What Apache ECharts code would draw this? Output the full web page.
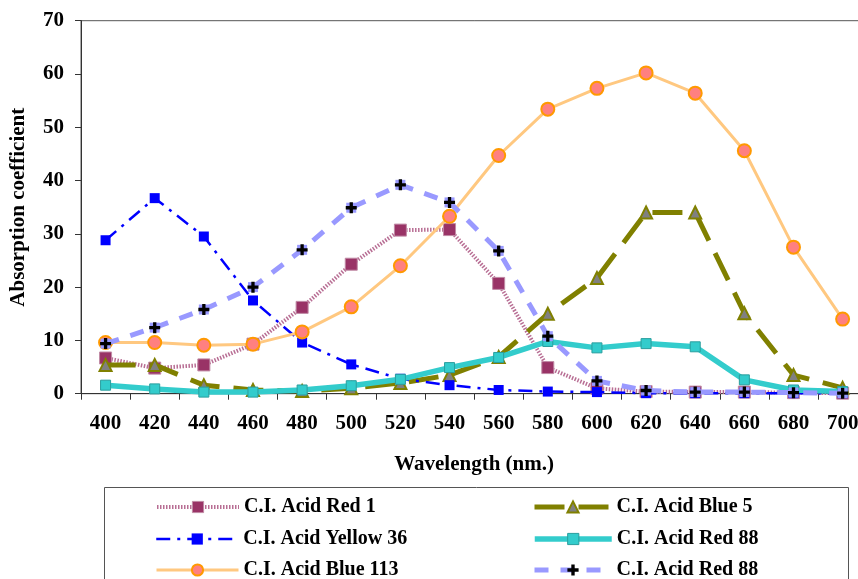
<!DOCTYPE html>
<html>
<head>
<meta charset="utf-8">
<script src="https://cdn.jsdelivr.net/npm/echarts@6/dist/echarts.min.js"></script>
<style>html,body{margin:0;padding:0;background:#fff;overflow:hidden;width:858px;height:579px}#c{width:868px;height:579px}</style>
</head>
<body>
<div id="c"></div>
<script>
var wavelengths = ['400','420','440','460','480','500','520','540','560','580','600','620','640','660','680','700'];
var acidRed1 =     [6.7, 4.8, 5.4, 9.3, 16.2, 24.3, 30.7, 30.8, 20.7, 4.9, 1.0, 0.4, 0.3, 0.3, 0.2, 0.1];
var acidBlue5 =    [5.4, 5.4, 1.6, 0.7, 0.5, 1.0, 2.0, 3.5, 6.9, 15.0, 21.7, 34.0, 34.0, 15.1, 3.5, 1.1];
var acidYellow36 = [28.8, 36.7, 29.5, 17.5, 9.6, 5.5, 2.8, 1.6, 0.7, 0.4, 0.3, 0.1, 0.1, 0.1, 0.1, 0.1];
var acidRed88 =    [1.6, 0.9, 0.3, 0.3, 0.7, 1.5, 2.7, 4.9, 6.8, 9.8, 8.6, 9.4, 8.8, 2.6, 0.7, 0.4];
var acidBlue113 =  [9.6, 9.6, 9.1, 9.3, 11.6, 16.3, 24.0, 33.3, 44.7, 53.4, 57.3, 60.2, 56.4, 45.6, 27.5, 14.0];
var acidRed88b =   [9.4, 12.4, 15.8, 20.0, 27.0, 34.9, 39.2, 35.9, 26.8, 10.8, 2.4, 0.6, 0.3, 0.3, 0.2, 0.1];
var yTicks = {min: 0, max: 70, interval: 10};

var FONT = 'Liberation Serif';
var plusPath = 'path://M3.5,0H6.5V3.5H10V6.5H6.5V10H3.5V6.5H0V3.5H3.5Z';
var names = ['C.I. Acid Red 1','C.I. Acid Blue 5','C.I. Acid Yellow 36','C.I. Acid Red 88','C.I. Acid Blue 113','C.I. Acid Red 88 '];

var styles = [
  {sym: 'rect', size: 12, item: {color: '#993366', borderColor: '#c08aa5', borderWidth: 1},
   line: {color: '#b86e94', width: 4, type: [1.5, 1.5]}},
  {sym: 'triangle', size: 12, item: {color: '#808080', borderColor: '#808000', borderWidth: 2},
   line: {color: '#808000', width: 5, type: [30, 14]}},
  {sym: 'rect', size: 10, item: {color: '#0000FF'},
   line: {color: '#0000FF', width: 2.5, type: [14, 7, 3, 7]}},
  {sym: 'rect', size: 10, item: {color: '#33CCCC', borderColor: '#2a9e9e', borderWidth: 1},
   line: {color: '#33CCCC', width: 5.5}},
  {sym: 'circle', size: 13, item: {color: '#FF8080', borderColor: '#FF9900', borderWidth: 2},
   line: {color: '#FFC880', width: 3}},
  {sym: plusPath, size: 11, item: {color: '#000'},
   line: {color: '#9999FF', width: 5, type: [14, 12]}}
];
var dataSets = [acidRed1, acidBlue5, acidYellow36, acidRed88, acidBlue113, acidRed88b];

var legendText = {fontFamily: FONT, fontWeight: 'bold', fontSize: 20, color: '#000'};
var legendPos = [[155, 497], [532, 497], [155, 529], [532, 529], [155, 560], [532, 560]];
var legends = names.map(function (n, i) {
  return {
    data: [n], orient: 'horizontal',
    left: legendPos[i][0], top: legendPos[i][1], padding: 0,
    itemWidth: i % 2 === 0 ? 82 : 77, itemHeight: 14, itemGap: 0,
    textStyle: legendText,
    lineStyle: {color: styles[i].line.color, width: styles[i].line.width, type: styles[i].line.type || 'solid'},
    itemStyle: styles[i].item
  };
});

var series = [];
dataSets.forEach(function (d, i) {
  if (i === 5) {
    series.push({name: 'bg-marker', type: 'line', data: d, symbol: 'rect', symbolSize: 10,
      itemStyle: {color: '#9999FF'}, lineStyle: {width: 0, opacity: 0}, z: 7});
  }
  series.push({name: names[i], type: 'line', data: d, symbol: styles[i].sym, symbolSize: styles[i].size,
    itemStyle: styles[i].item, lineStyle: styles[i].line, z: 2 + i + (i === 5 ? 2 : 0)});
});

var chart = echarts.init(document.getElementById('c'), null, {renderer: 'canvas'});
chart.setOption({
  animation: false,
  backgroundColor: '#fff',
  grid: {left: 80, top: 20.7, right: 0.8, bottom: 185.3, show: true, borderColor: '#555', borderWidth: 1},
  xAxis: {
    type: 'category', data: wavelengths, boundaryGap: true,
    axisLine: {lineStyle: {color: '#333', width: 1}},
    axisTick: {show: true, length: 6, lineStyle: {color: '#333'}},
    axisLabel: {fontFamily: FONT, fontWeight: 'bold', fontSize: 21, color: '#000', margin: 19, interval: 0},
    name: 'Wavelength (nm.)', nameLocation: 'middle', nameGap: 60,
    nameTextStyle: {fontFamily: FONT, fontWeight: 'bold', fontSize: 21, color: '#000'}
  },
  yAxis: {
    type: 'value', min: yTicks.min, max: yTicks.max, interval: yTicks.interval,
    splitLine: {show: false},
    axisLine: {show: true, lineStyle: {color: '#333', width: 1}},
    axisTick: {show: true, length: 6, lineStyle: {color: '#333'}},
    axisLabel: {fontFamily: FONT, fontWeight: 'bold', fontSize: 21, color: '#000', margin: 17},
    name: 'Absorption coefficient', nameLocation: 'middle', nameGap: 52,
    nameTextStyle: {fontFamily: FONT, fontWeight: 'bold', fontSize: 21, color: '#000'}
  },
  legend: legends,
  graphic: [{type: 'rect', shape: {x: 104.5, y: 487.5, width: 744, height: 120}, style: {fill: 'none', stroke: '#555', lineWidth: 1}, silent: true}],
  series: series
});
</script>
</body>
</html>
